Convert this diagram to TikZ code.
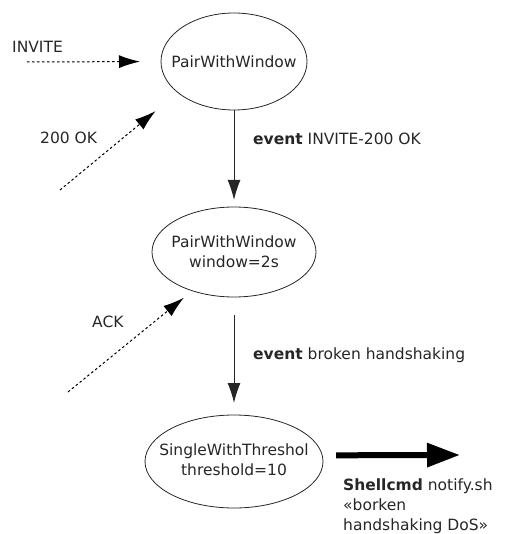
\documentclass[tikz,border=0pt]{standalone}
\usepackage{fontspec}
\setmainfont{DejaVu Sans}
\usetikzlibrary{arrows.meta,shapes.geometric}
\tikzset{
  statebox/.style={ellipse, draw=black!85, line width=0.8pt, inner sep=0pt, outer sep=0pt},
  txt/.style={font=\fontsize{15.5}{20}\selectfont, inner sep=0pt, text=black!85},
  flow/.style={draw=black!85, line width=1pt, -{Latex[length=20pt,width=13pt]}},
  trigger/.style={draw=black, line width=1pt, dash pattern=on 2.5pt off 2.5pt, -{Latex[length=21pt,width=13pt]}},
  action/.style={draw=black, line width=6pt, -{Triangle[length=33pt,width=23pt]}}
}
\begin{document}
\begin{tikzpicture}[x=1pt,y=-1pt]
\useasboundingbox (0,0) rectangle (505,534);
% states
\node[statebox, minimum width=146pt, minimum height=97pt] (s1) at (234,61.5) {};
\node[txt] (s1t) at (s1) {PairWithWindow};
\node[statebox, minimum width=164pt, minimum height=90pt] (s2) at (234,252) {};
\node[txt, align=center] (s2t) at (s2) {PairWithWindow\\window=2s};
\node[statebox, minimum width=178pt, minimum height=93pt] (s3) at (234,461.5) {};
\node[txt, align=center] (s3t) at (234,460) {SingleWithThreshol\\threshold=10};
% transitions
\draw[flow, shorten >=7pt] (s1) -- (s2);
\draw[flow, shorten <=18pt, shorten >=12pt] (s2) -- (s3);
\node[txt, anchor=west] (e1) at (253,139) {\textbf{event} INVITE-200 OK};
\node[txt, anchor=west] (e2) at (253,355) {\textbf{event} broken handshaking};
% incoming messages
\coordinate (inv) at (27,62);
\coordinate (ok) at (60,190);
\coordinate (ack) at (68,392);
\draw[trigger, shorten >=21pt] (inv) -- (s1.west);
\draw[trigger, shorten >=29pt] (ok) -- (s1.209.8);
\draw[trigger, shorten >=11pt] (ack) -- (s2.223.4);
\node[txt, anchor=west] (l1) at (12,47) {INVITE};
\node[txt, anchor=west] (l2) at (40,138) {200 OK};
\node[txt, anchor=west] (l3) at (92,322) {ACK};
% action
\coordinate (out) at (460,455);
\draw[action, shorten <=14pt] (s3.4.2) -- (out);
\node[txt, anchor=west, align=left] (a1) at (343,506.5) {\textbf{Shellcmd} notify.sh\\«borken\\handshaking DoS»};
\end{tikzpicture}
\end{document}
